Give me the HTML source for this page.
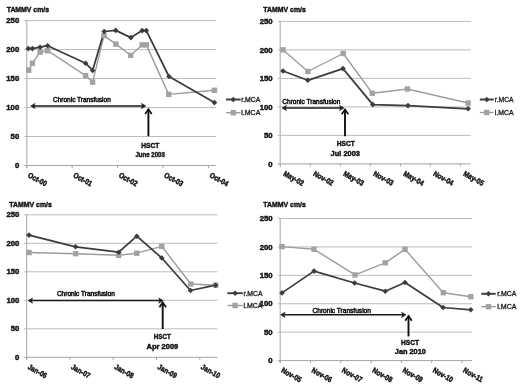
<!DOCTYPE html>
<html><head><meta charset="utf-8"><title>TAMMV charts</title>
<style>
html,body{margin:0;padding:0;background:#fff;}
body{width:520px;height:386px;overflow:hidden;font-family:"Liberation Sans",sans-serif;}
svg{display:block;filter:grayscale(1);}
text{font-family:"Liberation Sans",sans-serif;}
</style></head><body>
<svg width="520" height="386" viewBox="0 0 520 386" font-family="Liberation Sans, sans-serif">
<rect width="520" height="386" fill="#fff"/>
<text x="6.7" y="11.8" font-size="7.9" font-weight="bold" text-anchor="start" fill="#111" textLength="42.3" lengthAdjust="spacingAndGlyphs" stroke="#111" stroke-width="0.45">TAMMV cm/s</text>
<line x1="24.30" y1="165.50" x2="216.00" y2="165.50" stroke="#a4a4a4" stroke-width="1"/>
<text x="19.2" y="168.1" font-size="7.4" font-weight="bold" text-anchor="end" fill="#111" textLength="4.3" lengthAdjust="spacingAndGlyphs" stroke="#111" stroke-width="0.45">0</text>
<line x1="24.30" y1="136.52" x2="216.00" y2="136.52" stroke="#bcbcbc" stroke-width="1"/>
<text x="19.2" y="139.12" font-size="7.4" font-weight="bold" text-anchor="end" fill="#111" textLength="8.6" lengthAdjust="spacingAndGlyphs" stroke="#111" stroke-width="0.45">50</text>
<line x1="24.30" y1="107.54" x2="216.00" y2="107.54" stroke="#bcbcbc" stroke-width="1"/>
<text x="19.2" y="110.13999999999999" font-size="7.4" font-weight="bold" text-anchor="end" fill="#111" textLength="12.9" lengthAdjust="spacingAndGlyphs" stroke="#111" stroke-width="0.45">100</text>
<line x1="24.30" y1="78.56" x2="216.00" y2="78.56" stroke="#bcbcbc" stroke-width="1"/>
<text x="19.2" y="81.16" font-size="7.4" font-weight="bold" text-anchor="end" fill="#111" textLength="12.9" lengthAdjust="spacingAndGlyphs" stroke="#111" stroke-width="0.45">150</text>
<line x1="24.30" y1="49.58" x2="216.00" y2="49.58" stroke="#bcbcbc" stroke-width="1"/>
<text x="19.2" y="52.18" font-size="7.4" font-weight="bold" text-anchor="end" fill="#111" textLength="12.9" lengthAdjust="spacingAndGlyphs" stroke="#111" stroke-width="0.45">200</text>
<line x1="24.30" y1="20.60" x2="216.00" y2="20.60" stroke="#bcbcbc" stroke-width="1"/>
<text x="19.2" y="23.199999999999996" font-size="7.4" font-weight="bold" text-anchor="end" fill="#111" textLength="12.9" lengthAdjust="spacingAndGlyphs" stroke="#111" stroke-width="0.45">250</text>
<line x1="26.80" y1="20.10" x2="26.80" y2="168.00" stroke="#b4b4b4" stroke-width="1.2"/>
<line x1="26.80" y1="165.50" x2="26.80" y2="168.00" stroke="#a4a4a4" stroke-width="1"/>
<text transform="translate(27.35,176.77) rotate(29) scale(0.86,1)" x="0" y="0" font-size="7.6" font-weight="bold" fill="#111" stroke="#111" stroke-width="0.45">Oct-00</text>
<line x1="72.20" y1="165.50" x2="72.20" y2="168.00" stroke="#a4a4a4" stroke-width="1"/>
<text transform="translate(72.75,176.77) rotate(29) scale(0.86,1)" x="0" y="0" font-size="7.6" font-weight="bold" fill="#111" stroke="#111" stroke-width="0.45">Oct-01</text>
<line x1="117.60" y1="165.50" x2="117.60" y2="168.00" stroke="#a4a4a4" stroke-width="1"/>
<text transform="translate(118.15,176.77) rotate(29) scale(0.86,1)" x="0" y="0" font-size="7.6" font-weight="bold" fill="#111" stroke="#111" stroke-width="0.45">Oct-02</text>
<line x1="163.00" y1="165.50" x2="163.00" y2="168.00" stroke="#a4a4a4" stroke-width="1"/>
<text transform="translate(163.55,176.77) rotate(29) scale(0.86,1)" x="0" y="0" font-size="7.6" font-weight="bold" fill="#111" stroke="#111" stroke-width="0.45">Oct-03</text>
<line x1="208.40" y1="165.50" x2="208.40" y2="168.00" stroke="#a4a4a4" stroke-width="1"/>
<text transform="translate(208.95,176.77) rotate(29) scale(0.86,1)" x="0" y="0" font-size="7.6" font-weight="bold" fill="#111" stroke="#111" stroke-width="0.45">Oct-04</text>
<polyline points="28.70,70.20 32.40,63.20 40.10,52.20 47.60,50.70 85.60,75.60 92.60,82.20 104.00,35.60 115.90,44.10 130.70,55.30 142.20,44.90 146.30,44.90 168.70,94.40 214.40,90.30" fill="none" stroke="#9c9c9c" stroke-width="1.4" stroke-linejoin="round"/>
<polyline points="28.30,48.60 32.40,48.60 40.10,47.20 47.60,45.70 85.60,63.20 92.60,70.40 104.20,31.50 115.70,30.40 130.90,37.60 142.20,30.60 146.30,30.60 169.00,76.50 214.40,102.60" fill="none" stroke="#3c3c3c" stroke-width="1.75" stroke-linejoin="round"/>
<rect x="26.00" y="67.50" width="5.40" height="5.40" fill="#a2a2a2"/>
<rect x="29.70" y="60.50" width="5.40" height="5.40" fill="#a2a2a2"/>
<rect x="37.40" y="49.50" width="5.40" height="5.40" fill="#a2a2a2"/>
<rect x="44.90" y="48.00" width="5.40" height="5.40" fill="#a2a2a2"/>
<rect x="82.90" y="72.90" width="5.40" height="5.40" fill="#a2a2a2"/>
<rect x="89.90" y="79.50" width="5.40" height="5.40" fill="#a2a2a2"/>
<rect x="101.30" y="32.90" width="5.40" height="5.40" fill="#a2a2a2"/>
<rect x="113.20" y="41.40" width="5.40" height="5.40" fill="#a2a2a2"/>
<rect x="128.00" y="52.60" width="5.40" height="5.40" fill="#a2a2a2"/>
<rect x="139.50" y="42.20" width="5.40" height="5.40" fill="#a2a2a2"/>
<rect x="143.60" y="42.20" width="5.40" height="5.40" fill="#a2a2a2"/>
<rect x="166.00" y="91.70" width="5.40" height="5.40" fill="#a2a2a2"/>
<rect x="211.70" y="87.60" width="5.40" height="5.40" fill="#a2a2a2"/>
<path d="M25.50 48.60L28.30 45.80L31.10 48.60L28.30 51.40Z" fill="#3c3c3c"/>
<path d="M29.60 48.60L32.40 45.80L35.20 48.60L32.40 51.40Z" fill="#3c3c3c"/>
<path d="M37.30 47.20L40.10 44.40L42.90 47.20L40.10 50.00Z" fill="#3c3c3c"/>
<path d="M44.80 45.70L47.60 42.90L50.40 45.70L47.60 48.50Z" fill="#3c3c3c"/>
<path d="M82.80 63.20L85.60 60.40L88.40 63.20L85.60 66.00Z" fill="#3c3c3c"/>
<path d="M89.80 70.40L92.60 67.60L95.40 70.40L92.60 73.20Z" fill="#3c3c3c"/>
<path d="M101.40 31.50L104.20 28.70L107.00 31.50L104.20 34.30Z" fill="#3c3c3c"/>
<path d="M112.90 30.40L115.70 27.60L118.50 30.40L115.70 33.20Z" fill="#3c3c3c"/>
<path d="M128.10 37.60L130.90 34.80L133.70 37.60L130.90 40.40Z" fill="#3c3c3c"/>
<path d="M139.40 30.60L142.20 27.80L145.00 30.60L142.20 33.40Z" fill="#3c3c3c"/>
<path d="M143.50 30.60L146.30 27.80L149.10 30.60L146.30 33.40Z" fill="#3c3c3c"/>
<path d="M166.20 76.50L169.00 73.70L171.80 76.50L169.00 79.30Z" fill="#3c3c3c"/>
<path d="M211.60 102.60L214.40 99.80L217.20 102.60L214.40 105.40Z" fill="#3c3c3c"/>
<line x1="226" y1="99.5" x2="240.6" y2="99.5" stroke="#3c3c3c" stroke-width="1.9"/>
<path d="M230.50 99.50L233.30 96.70L236.10 99.50L233.30 102.30Z" fill="#3c3c3c"/>
<line x1="226" y1="112.7" x2="240.6" y2="112.7" stroke="#9c9c9c" stroke-width="1.4"/>
<rect x="230.60" y="110.00" width="5.40" height="5.40" fill="#a2a2a2"/>
<text x="241.3" y="101.9" font-size="6.6" font-weight="normal" text-anchor="start" fill="#111" textLength="19" lengthAdjust="spacingAndGlyphs" stroke="#222" stroke-width="0.3">r.MCA</text>
<text x="241.3" y="115.10000000000001" font-size="6.6" font-weight="normal" text-anchor="start" fill="#111" textLength="19" lengthAdjust="spacingAndGlyphs" stroke="#222" stroke-width="0.3">l.MCA</text>
<line x1="32.60" y1="106.00" x2="143.90" y2="106.00" stroke="#1a1a1a" stroke-width="1.5"/>
<path d="M30.60 106.00L35.10 103.40L33.80 106.00L35.10 108.60Z" fill="#1a1a1a" stroke="#1a1a1a" stroke-width="0.6" stroke-linejoin="round"/>
<path d="M145.90 106.00L141.40 103.40L142.70 106.00L141.40 108.60Z" fill="#1a1a1a" stroke="#1a1a1a" stroke-width="0.6" stroke-linejoin="round"/>
<text x="53" y="101.6" font-size="7.0" font-weight="normal" text-anchor="start" fill="#111" textLength="57.8" lengthAdjust="spacingAndGlyphs" stroke="#111" stroke-width="0.5">Chronic Transfusion</text>
<line x1="148.40" y1="109.00" x2="148.40" y2="136.20" stroke="#111" stroke-width="1.9"/>
<path d="M145.10 114.00L148.40 109.20L151.70 114.00" fill="none" stroke="#111" stroke-width="1.7"/>
<text x="141.2" y="147.7" font-size="8" font-weight="bold" text-anchor="start" fill="#111" textLength="18.1" lengthAdjust="spacingAndGlyphs" stroke="#111" stroke-width="0.45">HSCT</text>
<text x="135.4" y="156.7" font-size="7.6" font-weight="bold" text-anchor="start" fill="#111" textLength="29.4" lengthAdjust="spacingAndGlyphs" stroke="#111" stroke-width="0.45">June 2003</text>
<text x="263.3" y="11.8" font-size="7.9" font-weight="bold" text-anchor="start" fill="#111" textLength="42.5" lengthAdjust="spacingAndGlyphs" stroke="#111" stroke-width="0.45">TAMMV cm/s</text>
<line x1="277.70" y1="163.90" x2="470.80" y2="163.90" stroke="#a4a4a4" stroke-width="1"/>
<text x="272.6" y="166.5" font-size="7.4" font-weight="bold" text-anchor="end" fill="#111" textLength="4.3" lengthAdjust="spacingAndGlyphs" stroke="#111" stroke-width="0.45">0</text>
<line x1="277.70" y1="135.40" x2="470.80" y2="135.40" stroke="#bcbcbc" stroke-width="1"/>
<text x="272.6" y="138.0" font-size="7.4" font-weight="bold" text-anchor="end" fill="#111" textLength="8.6" lengthAdjust="spacingAndGlyphs" stroke="#111" stroke-width="0.45">50</text>
<line x1="277.70" y1="106.90" x2="470.80" y2="106.90" stroke="#bcbcbc" stroke-width="1"/>
<text x="272.6" y="109.5" font-size="7.4" font-weight="bold" text-anchor="end" fill="#111" textLength="12.9" lengthAdjust="spacingAndGlyphs" stroke="#111" stroke-width="0.45">100</text>
<line x1="277.70" y1="78.40" x2="470.80" y2="78.40" stroke="#bcbcbc" stroke-width="1"/>
<text x="272.6" y="81.0" font-size="7.4" font-weight="bold" text-anchor="end" fill="#111" textLength="12.9" lengthAdjust="spacingAndGlyphs" stroke="#111" stroke-width="0.45">150</text>
<line x1="277.70" y1="49.90" x2="470.80" y2="49.90" stroke="#bcbcbc" stroke-width="1"/>
<text x="272.6" y="52.50000000000001" font-size="7.4" font-weight="bold" text-anchor="end" fill="#111" textLength="12.9" lengthAdjust="spacingAndGlyphs" stroke="#111" stroke-width="0.45">200</text>
<line x1="277.70" y1="21.40" x2="470.80" y2="21.40" stroke="#bcbcbc" stroke-width="1"/>
<text x="272.6" y="24.000000000000007" font-size="7.4" font-weight="bold" text-anchor="end" fill="#111" textLength="12.9" lengthAdjust="spacingAndGlyphs" stroke="#111" stroke-width="0.45">250</text>
<line x1="280.20" y1="20.90" x2="280.20" y2="166.40" stroke="#b4b4b4" stroke-width="1.2"/>
<line x1="280.40" y1="163.90" x2="280.40" y2="166.40" stroke="#a4a4a4" stroke-width="1"/>
<text transform="translate(282.70,175.17) rotate(29) scale(0.86,1)" x="0" y="0" font-size="7.6" font-weight="bold" fill="#111" stroke="#111" stroke-width="0.45">May-02</text>
<line x1="310.40" y1="163.90" x2="310.40" y2="166.40" stroke="#a4a4a4" stroke-width="1"/>
<text transform="translate(312.70,175.17) rotate(29) scale(0.86,1)" x="0" y="0" font-size="7.6" font-weight="bold" fill="#111" stroke="#111" stroke-width="0.45">Nov-02</text>
<line x1="340.40" y1="163.90" x2="340.40" y2="166.40" stroke="#a4a4a4" stroke-width="1"/>
<text transform="translate(342.70,175.17) rotate(29) scale(0.86,1)" x="0" y="0" font-size="7.6" font-weight="bold" fill="#111" stroke="#111" stroke-width="0.45">May-03</text>
<line x1="370.40" y1="163.90" x2="370.40" y2="166.40" stroke="#a4a4a4" stroke-width="1"/>
<text transform="translate(372.70,175.17) rotate(29) scale(0.86,1)" x="0" y="0" font-size="7.6" font-weight="bold" fill="#111" stroke="#111" stroke-width="0.45">Nov-03</text>
<line x1="400.40" y1="163.90" x2="400.40" y2="166.40" stroke="#a4a4a4" stroke-width="1"/>
<text transform="translate(402.70,175.17) rotate(29) scale(0.86,1)" x="0" y="0" font-size="7.6" font-weight="bold" fill="#111" stroke="#111" stroke-width="0.45">May-04</text>
<line x1="430.40" y1="163.90" x2="430.40" y2="166.40" stroke="#a4a4a4" stroke-width="1"/>
<text transform="translate(432.70,175.17) rotate(29) scale(0.86,1)" x="0" y="0" font-size="7.6" font-weight="bold" fill="#111" stroke="#111" stroke-width="0.45">Nov-04</text>
<line x1="460.40" y1="163.90" x2="460.40" y2="166.40" stroke="#a4a4a4" stroke-width="1"/>
<text transform="translate(462.70,175.17) rotate(29) scale(0.86,1)" x="0" y="0" font-size="7.6" font-weight="bold" fill="#111" stroke="#111" stroke-width="0.45">May-05</text>
<polyline points="283.00,49.80 307.80,71.50 343.20,53.50 372.20,93.20 407.40,89.00 468.10,103.00" fill="none" stroke="#9c9c9c" stroke-width="1.4" stroke-linejoin="round"/>
<polyline points="283.00,71.00 307.80,80.30 343.00,68.60 372.80,104.60 408.00,105.60 468.10,108.80" fill="none" stroke="#3c3c3c" stroke-width="1.75" stroke-linejoin="round"/>
<rect x="280.30" y="47.10" width="5.40" height="5.40" fill="#a2a2a2"/>
<rect x="305.10" y="68.80" width="5.40" height="5.40" fill="#a2a2a2"/>
<rect x="340.50" y="50.80" width="5.40" height="5.40" fill="#a2a2a2"/>
<rect x="369.50" y="90.50" width="5.40" height="5.40" fill="#a2a2a2"/>
<rect x="404.70" y="86.30" width="5.40" height="5.40" fill="#a2a2a2"/>
<rect x="465.40" y="100.30" width="5.40" height="5.40" fill="#a2a2a2"/>
<path d="M280.20 71.00L283.00 68.20L285.80 71.00L283.00 73.80Z" fill="#3c3c3c"/>
<path d="M305.00 80.30L307.80 77.50L310.60 80.30L307.80 83.10Z" fill="#3c3c3c"/>
<path d="M340.20 68.60L343.00 65.80L345.80 68.60L343.00 71.40Z" fill="#3c3c3c"/>
<path d="M370.00 104.60L372.80 101.80L375.60 104.60L372.80 107.40Z" fill="#3c3c3c"/>
<path d="M405.20 105.60L408.00 102.80L410.80 105.60L408.00 108.40Z" fill="#3c3c3c"/>
<path d="M465.30 108.80L468.10 106.00L470.90 108.80L468.10 111.60Z" fill="#3c3c3c"/>
<line x1="479.8" y1="99.5" x2="493.7" y2="99.5" stroke="#3c3c3c" stroke-width="1.9"/>
<path d="M483.95 99.50L486.75 96.70L489.55 99.50L486.75 102.30Z" fill="#3c3c3c"/>
<line x1="479.8" y1="112.5" x2="493.7" y2="112.5" stroke="#9c9c9c" stroke-width="1.4"/>
<rect x="484.05" y="109.80" width="5.40" height="5.40" fill="#a2a2a2"/>
<text x="494.8" y="101.9" font-size="6.6" font-weight="normal" text-anchor="start" fill="#111" textLength="18.8" lengthAdjust="spacingAndGlyphs" stroke="#222" stroke-width="0.3">r.MCA</text>
<text x="494.8" y="114.9" font-size="6.6" font-weight="normal" text-anchor="start" fill="#111" textLength="18.8" lengthAdjust="spacingAndGlyphs" stroke="#222" stroke-width="0.3">l.MCA</text>
<line x1="284.00" y1="108.00" x2="342.00" y2="108.00" stroke="#1a1a1a" stroke-width="1.5"/>
<path d="M282.00 108.00L286.50 105.40L285.20 108.00L286.50 110.60Z" fill="#1a1a1a" stroke="#1a1a1a" stroke-width="0.6" stroke-linejoin="round"/>
<path d="M344.00 108.00L339.50 105.40L340.80 108.00L339.50 110.60Z" fill="#1a1a1a" stroke="#1a1a1a" stroke-width="0.6" stroke-linejoin="round"/>
<text x="282.3" y="103.8" font-size="7.0" font-weight="normal" text-anchor="start" fill="#111" textLength="58.1" lengthAdjust="spacingAndGlyphs" stroke="#111" stroke-width="0.5">Chronic Transfusion</text>
<line x1="345.00" y1="109.30" x2="345.00" y2="136.30" stroke="#111" stroke-width="1.9"/>
<path d="M341.70 114.30L345.00 109.50L348.30 114.30" fill="none" stroke="#111" stroke-width="1.7"/>
<text x="336.7" y="146.3" font-size="8" font-weight="bold" text-anchor="start" fill="#111" textLength="18.1" lengthAdjust="spacingAndGlyphs" stroke="#111" stroke-width="0.45">HSCT</text>
<text x="330.6" y="155.6" font-size="7.6" font-weight="bold" text-anchor="start" fill="#111" textLength="29.4" lengthAdjust="spacingAndGlyphs" stroke="#111" stroke-width="0.45">Jul 2003</text>
<text x="9.3" y="206.9" font-size="7.9" font-weight="bold" text-anchor="start" fill="#111" textLength="42.6" lengthAdjust="spacingAndGlyphs" stroke="#111" stroke-width="0.45">TAMMV cm/s</text>
<line x1="24.10" y1="357.30" x2="217.50" y2="357.30" stroke="#a4a4a4" stroke-width="1"/>
<text x="19.3" y="359.90000000000003" font-size="7.4" font-weight="bold" text-anchor="end" fill="#111" textLength="4.3" lengthAdjust="spacingAndGlyphs" stroke="#111" stroke-width="0.45">0</text>
<line x1="24.10" y1="328.80" x2="217.50" y2="328.80" stroke="#bcbcbc" stroke-width="1"/>
<text x="19.3" y="331.40000000000003" font-size="7.4" font-weight="bold" text-anchor="end" fill="#111" textLength="8.6" lengthAdjust="spacingAndGlyphs" stroke="#111" stroke-width="0.45">50</text>
<line x1="24.10" y1="300.30" x2="217.50" y2="300.30" stroke="#bcbcbc" stroke-width="1"/>
<text x="19.3" y="302.90000000000003" font-size="7.4" font-weight="bold" text-anchor="end" fill="#111" textLength="12.9" lengthAdjust="spacingAndGlyphs" stroke="#111" stroke-width="0.45">100</text>
<line x1="24.10" y1="271.80" x2="217.50" y2="271.80" stroke="#bcbcbc" stroke-width="1"/>
<text x="19.3" y="274.40000000000003" font-size="7.4" font-weight="bold" text-anchor="end" fill="#111" textLength="12.9" lengthAdjust="spacingAndGlyphs" stroke="#111" stroke-width="0.45">150</text>
<line x1="24.10" y1="243.30" x2="217.50" y2="243.30" stroke="#bcbcbc" stroke-width="1"/>
<text x="19.3" y="245.9" font-size="7.4" font-weight="bold" text-anchor="end" fill="#111" textLength="12.9" lengthAdjust="spacingAndGlyphs" stroke="#111" stroke-width="0.45">200</text>
<line x1="24.10" y1="214.80" x2="217.50" y2="214.80" stroke="#bcbcbc" stroke-width="1"/>
<text x="19.3" y="217.4" font-size="7.4" font-weight="bold" text-anchor="end" fill="#111" textLength="12.9" lengthAdjust="spacingAndGlyphs" stroke="#111" stroke-width="0.45">250</text>
<line x1="26.60" y1="214.30" x2="26.60" y2="359.80" stroke="#b4b4b4" stroke-width="1.2"/>
<line x1="26.60" y1="357.30" x2="26.60" y2="359.80" stroke="#a4a4a4" stroke-width="1"/>
<text transform="translate(27.15,368.57) rotate(29) scale(0.86,1)" x="0" y="0" font-size="7.6" font-weight="bold" fill="#111" stroke="#111" stroke-width="0.45">Jan-06</text>
<line x1="69.90" y1="357.30" x2="69.90" y2="359.80" stroke="#a4a4a4" stroke-width="1"/>
<text transform="translate(70.45,368.57) rotate(29) scale(0.86,1)" x="0" y="0" font-size="7.6" font-weight="bold" fill="#111" stroke="#111" stroke-width="0.45">Jan-07</text>
<line x1="113.20" y1="357.30" x2="113.20" y2="359.80" stroke="#a4a4a4" stroke-width="1"/>
<text transform="translate(113.75,368.57) rotate(29) scale(0.86,1)" x="0" y="0" font-size="7.6" font-weight="bold" fill="#111" stroke="#111" stroke-width="0.45">Jan-08</text>
<line x1="156.50" y1="357.30" x2="156.50" y2="359.80" stroke="#a4a4a4" stroke-width="1"/>
<text transform="translate(157.05,368.57) rotate(29) scale(0.86,1)" x="0" y="0" font-size="7.6" font-weight="bold" fill="#111" stroke="#111" stroke-width="0.45">Jan-09</text>
<line x1="199.80" y1="357.30" x2="199.80" y2="359.80" stroke="#a4a4a4" stroke-width="1"/>
<text transform="translate(200.35,368.57) rotate(29) scale(0.86,1)" x="0" y="0" font-size="7.6" font-weight="bold" fill="#111" stroke="#111" stroke-width="0.45">Jan-10</text>
<polyline points="29.00,252.50 75.60,253.70 118.70,255.30 136.80,253.20 161.80,246.30 190.80,284.00 215.60,285.20" fill="none" stroke="#9c9c9c" stroke-width="1.4" stroke-linejoin="round"/>
<polyline points="29.00,235.10 75.60,246.80 118.70,252.20 136.80,236.20 161.80,258.00 190.50,290.50 215.60,285.20" fill="none" stroke="#3c3c3c" stroke-width="1.75" stroke-linejoin="round"/>
<rect x="26.30" y="249.80" width="5.40" height="5.40" fill="#a2a2a2"/>
<rect x="72.90" y="251.00" width="5.40" height="5.40" fill="#a2a2a2"/>
<rect x="116.00" y="252.60" width="5.40" height="5.40" fill="#a2a2a2"/>
<rect x="134.10" y="250.50" width="5.40" height="5.40" fill="#a2a2a2"/>
<rect x="159.10" y="243.60" width="5.40" height="5.40" fill="#a2a2a2"/>
<rect x="188.10" y="281.30" width="5.40" height="5.40" fill="#a2a2a2"/>
<rect x="212.90" y="282.50" width="5.40" height="5.40" fill="#a2a2a2"/>
<path d="M26.20 235.10L29.00 232.30L31.80 235.10L29.00 237.90Z" fill="#3c3c3c"/>
<path d="M72.80 246.80L75.60 244.00L78.40 246.80L75.60 249.60Z" fill="#3c3c3c"/>
<path d="M115.90 252.20L118.70 249.40L121.50 252.20L118.70 255.00Z" fill="#3c3c3c"/>
<path d="M134.00 236.20L136.80 233.40L139.60 236.20L136.80 239.00Z" fill="#3c3c3c"/>
<path d="M159.00 258.00L161.80 255.20L164.60 258.00L161.80 260.80Z" fill="#3c3c3c"/>
<path d="M187.70 290.50L190.50 287.70L193.30 290.50L190.50 293.30Z" fill="#3c3c3c"/>
<path d="M212.80 285.20L215.60 282.40L218.40 285.20L215.60 288.00Z" fill="#3c3c3c"/>
<line x1="227.4" y1="293.2" x2="242.8" y2="293.2" stroke="#3c3c3c" stroke-width="1.9"/>
<path d="M232.30 293.20L235.10 290.40L237.90 293.20L235.10 296.00Z" fill="#3c3c3c"/>
<line x1="227.4" y1="305.5" x2="242.8" y2="305.5" stroke="#9c9c9c" stroke-width="1.4"/>
<rect x="232.40" y="302.80" width="5.40" height="5.40" fill="#a2a2a2"/>
<text x="243.5" y="295.59999999999997" font-size="6.6" font-weight="normal" text-anchor="start" fill="#111" textLength="19" lengthAdjust="spacingAndGlyphs" stroke="#222" stroke-width="0.3">r.MCA</text>
<text x="243.5" y="307.9" font-size="6.6" font-weight="normal" text-anchor="start" fill="#111" textLength="19" lengthAdjust="spacingAndGlyphs" stroke="#222" stroke-width="0.3">l.MCA</text>
<line x1="30.10" y1="300.60" x2="161.20" y2="300.60" stroke="#1a1a1a" stroke-width="1.5"/>
<path d="M28.10 300.60L32.60 298.00L31.30 300.60L32.60 303.20Z" fill="#1a1a1a" stroke="#1a1a1a" stroke-width="0.6" stroke-linejoin="round"/>
<path d="M163.20 300.60L158.70 298.00L160.00 300.60L158.70 303.20Z" fill="#1a1a1a" stroke="#1a1a1a" stroke-width="0.6" stroke-linejoin="round"/>
<text x="56.9" y="296.2" font-size="6.5" font-weight="normal" text-anchor="start" fill="#111" textLength="57.9" lengthAdjust="spacingAndGlyphs" stroke="#111" stroke-width="0.5">Chronic Transfusion</text>
<line x1="162.70" y1="302.30" x2="162.70" y2="329.00" stroke="#111" stroke-width="1.9"/>
<path d="M159.40 307.30L162.70 302.50L166.00 307.30" fill="none" stroke="#111" stroke-width="1.7"/>
<text x="153.8" y="338.6" font-size="8" font-weight="bold" text-anchor="start" fill="#111" textLength="17" lengthAdjust="spacingAndGlyphs" stroke="#111" stroke-width="0.45">HSCT</text>
<text x="146.5" y="349.3" font-size="7.6" font-weight="bold" text-anchor="start" fill="#111" textLength="31.8" lengthAdjust="spacingAndGlyphs" stroke="#111" stroke-width="0.45">Apr 2009</text>
<text x="263.3" y="206.9" font-size="7.9" font-weight="bold" text-anchor="start" fill="#111" textLength="42.5" lengthAdjust="spacingAndGlyphs" stroke="#111" stroke-width="0.45">TAMMV cm/s</text>
<line x1="277.70" y1="360.60" x2="472.00" y2="360.60" stroke="#a4a4a4" stroke-width="1"/>
<text x="272.6" y="363.20000000000005" font-size="7.4" font-weight="bold" text-anchor="end" fill="#111" textLength="4.3" lengthAdjust="spacingAndGlyphs" stroke="#111" stroke-width="0.45">0</text>
<line x1="277.70" y1="332.18" x2="472.00" y2="332.18" stroke="#bcbcbc" stroke-width="1"/>
<text x="272.6" y="334.78000000000003" font-size="7.4" font-weight="bold" text-anchor="end" fill="#111" textLength="8.6" lengthAdjust="spacingAndGlyphs" stroke="#111" stroke-width="0.45">50</text>
<line x1="277.70" y1="303.76" x2="472.00" y2="303.76" stroke="#bcbcbc" stroke-width="1"/>
<text x="272.6" y="306.36" font-size="7.4" font-weight="bold" text-anchor="end" fill="#111" textLength="12.9" lengthAdjust="spacingAndGlyphs" stroke="#111" stroke-width="0.45">100</text>
<line x1="277.70" y1="275.34" x2="472.00" y2="275.34" stroke="#bcbcbc" stroke-width="1"/>
<text x="272.6" y="277.94000000000005" font-size="7.4" font-weight="bold" text-anchor="end" fill="#111" textLength="12.9" lengthAdjust="spacingAndGlyphs" stroke="#111" stroke-width="0.45">150</text>
<line x1="277.70" y1="246.92" x2="472.00" y2="246.92" stroke="#bcbcbc" stroke-width="1"/>
<text x="272.6" y="249.52" font-size="7.4" font-weight="bold" text-anchor="end" fill="#111" textLength="12.9" lengthAdjust="spacingAndGlyphs" stroke="#111" stroke-width="0.45">200</text>
<line x1="277.70" y1="218.50" x2="472.00" y2="218.50" stroke="#bcbcbc" stroke-width="1"/>
<text x="272.6" y="221.1" font-size="7.4" font-weight="bold" text-anchor="end" fill="#111" textLength="12.9" lengthAdjust="spacingAndGlyphs" stroke="#111" stroke-width="0.45">250</text>
<line x1="280.20" y1="218.00" x2="280.20" y2="363.10" stroke="#b4b4b4" stroke-width="1.2"/>
<line x1="280.20" y1="360.60" x2="280.20" y2="363.10" stroke="#a4a4a4" stroke-width="1"/>
<text transform="translate(280.75,371.87) rotate(29) scale(0.86,1)" x="0" y="0" font-size="7.6" font-weight="bold" fill="#111" stroke="#111" stroke-width="0.45">Nov-05</text>
<line x1="310.50" y1="360.60" x2="310.50" y2="363.10" stroke="#a4a4a4" stroke-width="1"/>
<text transform="translate(311.05,371.87) rotate(29) scale(0.86,1)" x="0" y="0" font-size="7.6" font-weight="bold" fill="#111" stroke="#111" stroke-width="0.45">Nov-06</text>
<line x1="340.80" y1="360.60" x2="340.80" y2="363.10" stroke="#a4a4a4" stroke-width="1"/>
<text transform="translate(341.35,371.87) rotate(29) scale(0.86,1)" x="0" y="0" font-size="7.6" font-weight="bold" fill="#111" stroke="#111" stroke-width="0.45">Nov-07</text>
<line x1="371.10" y1="360.60" x2="371.10" y2="363.10" stroke="#a4a4a4" stroke-width="1"/>
<text transform="translate(371.65,371.87) rotate(29) scale(0.86,1)" x="0" y="0" font-size="7.6" font-weight="bold" fill="#111" stroke="#111" stroke-width="0.45">Nov-08</text>
<line x1="401.40" y1="360.60" x2="401.40" y2="363.10" stroke="#a4a4a4" stroke-width="1"/>
<text transform="translate(401.95,371.87) rotate(29) scale(0.86,1)" x="0" y="0" font-size="7.6" font-weight="bold" fill="#111" stroke="#111" stroke-width="0.45">Nov-09</text>
<line x1="431.70" y1="360.60" x2="431.70" y2="363.10" stroke="#a4a4a4" stroke-width="1"/>
<text transform="translate(432.25,371.87) rotate(29) scale(0.86,1)" x="0" y="0" font-size="7.6" font-weight="bold" fill="#111" stroke="#111" stroke-width="0.45">Nov-10</text>
<line x1="462.00" y1="360.60" x2="462.00" y2="363.10" stroke="#a4a4a4" stroke-width="1"/>
<text transform="translate(462.55,371.87) rotate(29) scale(0.86,1)" x="0" y="0" font-size="7.6" font-weight="bold" fill="#111" stroke="#111" stroke-width="0.45">Nov-11</text>
<polyline points="282.00,246.60 314.00,249.30 355.00,274.90 385.30,262.80 405.00,249.30 443.30,292.70 470.80,296.70" fill="none" stroke="#9c9c9c" stroke-width="1.4" stroke-linejoin="round"/>
<polyline points="282.00,292.90 314.00,271.10 354.60,283.00 385.30,291.20 405.00,282.50 443.10,307.50 470.80,309.80" fill="none" stroke="#3c3c3c" stroke-width="1.75" stroke-linejoin="round"/>
<rect x="279.30" y="243.90" width="5.40" height="5.40" fill="#a2a2a2"/>
<rect x="311.30" y="246.60" width="5.40" height="5.40" fill="#a2a2a2"/>
<rect x="352.30" y="272.20" width="5.40" height="5.40" fill="#a2a2a2"/>
<rect x="382.60" y="260.10" width="5.40" height="5.40" fill="#a2a2a2"/>
<rect x="402.30" y="246.60" width="5.40" height="5.40" fill="#a2a2a2"/>
<rect x="440.60" y="290.00" width="5.40" height="5.40" fill="#a2a2a2"/>
<rect x="468.10" y="294.00" width="5.40" height="5.40" fill="#a2a2a2"/>
<path d="M279.20 292.90L282.00 290.10L284.80 292.90L282.00 295.70Z" fill="#3c3c3c"/>
<path d="M311.20 271.10L314.00 268.30L316.80 271.10L314.00 273.90Z" fill="#3c3c3c"/>
<path d="M351.80 283.00L354.60 280.20L357.40 283.00L354.60 285.80Z" fill="#3c3c3c"/>
<path d="M382.50 291.20L385.30 288.40L388.10 291.20L385.30 294.00Z" fill="#3c3c3c"/>
<path d="M402.20 282.50L405.00 279.70L407.80 282.50L405.00 285.30Z" fill="#3c3c3c"/>
<path d="M440.30 307.50L443.10 304.70L445.90 307.50L443.10 310.30Z" fill="#3c3c3c"/>
<path d="M468.00 309.80L470.80 307.00L473.60 309.80L470.80 312.60Z" fill="#3c3c3c"/>
<line x1="481.2" y1="293.8" x2="495.7" y2="293.8" stroke="#3c3c3c" stroke-width="1.9"/>
<path d="M485.65 293.80L488.45 291.00L491.25 293.80L488.45 296.60Z" fill="#3c3c3c"/>
<line x1="481.2" y1="306.7" x2="495.7" y2="306.7" stroke="#9c9c9c" stroke-width="1.4"/>
<rect x="485.75" y="304.00" width="5.40" height="5.40" fill="#a2a2a2"/>
<text x="497.2" y="296.2" font-size="6.6" font-weight="normal" text-anchor="start" fill="#111" textLength="19.3" lengthAdjust="spacingAndGlyphs" stroke="#222" stroke-width="0.3">r.MCA</text>
<text x="497.2" y="309.09999999999997" font-size="6.6" font-weight="normal" text-anchor="start" fill="#111" textLength="19.3" lengthAdjust="spacingAndGlyphs" stroke="#222" stroke-width="0.3">l.MCA</text>
<line x1="282.60" y1="314.80" x2="404.00" y2="314.80" stroke="#1a1a1a" stroke-width="1.5"/>
<path d="M280.60 314.80L285.10 312.20L283.80 314.80L285.10 317.40Z" fill="#1a1a1a" stroke="#1a1a1a" stroke-width="0.6" stroke-linejoin="round"/>
<path d="M406.00 314.80L401.50 312.20L402.80 314.80L401.50 317.40Z" fill="#1a1a1a" stroke="#1a1a1a" stroke-width="0.6" stroke-linejoin="round"/>
<text x="312.5" y="312.6" font-size="7.0" font-weight="normal" text-anchor="start" fill="#111" textLength="58.4" lengthAdjust="spacingAndGlyphs" stroke="#111" stroke-width="0.5">Chronic Transfusion</text>
<line x1="408.50" y1="315.80" x2="408.50" y2="336.40" stroke="#111" stroke-width="1.9"/>
<path d="M405.20 320.80L408.50 316.00L411.80 320.80" fill="none" stroke="#111" stroke-width="1.7"/>
<text x="401" y="344.6" font-size="8" font-weight="bold" text-anchor="start" fill="#111" textLength="18" lengthAdjust="spacingAndGlyphs" stroke="#111" stroke-width="0.45">HSCT</text>
<text x="394.8" y="353.9" font-size="7.6" font-weight="bold" text-anchor="start" fill="#111" textLength="31" lengthAdjust="spacingAndGlyphs" stroke="#111" stroke-width="0.45">Jan 2010</text>
</svg>
</body></html>
